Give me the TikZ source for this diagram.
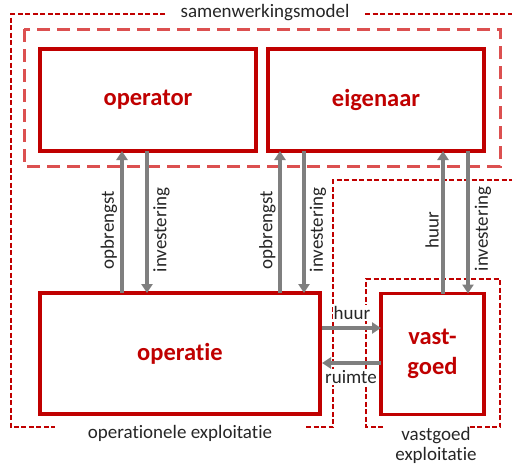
\documentclass[tikz,border=0pt]{standalone}
\usepackage{fontspec}
\setmainfont{Carlito}[Ligatures={NoCommon}]
\usetikzlibrary{arrows.meta}
\definecolor{boxred}{HTML}{C00000}
\definecolor{lightred}{RGB}{220,80,80}
\definecolor{arrgray}{HTML}{7F7F7F}
\tikzset{
  mainbox/.style={draw=boxred, line width=3.5pt, fill=white, inner sep=0pt, outer sep=0pt,
    font=\fontsize{24.5}{30}\selectfont\bfseries, text=boxred, align=center},
  arr/.style={draw=arrgray, line width=3.5pt, -{Triangle[width=11pt,length=9pt]}},
  lbl/.style={font=\fontsize{19}{21}\selectfont, text=black!85, inner sep=1pt},
  vlbl/.style={lbl, rotate=90},
  thindash/.style={draw=boxred, line width=1.3pt, dash pattern=on 5pt off 2.5pt},
  thickdash/.style={draw=lightred, line width=3pt, dash pattern=on 13pt off 7pt},
}
\begin{document}
\begin{tikzpicture}[x=1pt,y=-1pt]
\useasboundingbox (0,0) rectangle (512,466);
% outer thin dashed region
\draw[thindash] (165,14) -- (11,14) -- (11,427) -- (55,427);
\draw[thindash] (365,14) -- (512,14);
\draw[thindash] (306,427) -- (333,427) -- (333,180) -- (512,180);
\node[lbl] (samen) at (265,13) {samenwerkingsmodel};
\node[lbl] (opexp) at (180,433) {operationele exploitatie};
% vastgoed exploitatie region
\draw[thindash] (383,427) -- (366,427) -- (366,279) -- (500,279) -- (500,427) -- (467,427);
\node[lbl, align=center] (vgexp) at (436,445) {vastgoed\\[-1pt]exploitatie};
% thick dashed box
\draw[thickdash] (24,29) rectangle (500,166);
% main boxes
\node[mainbox, minimum width=216, minimum height=102] (operator) at (148,100) {operator};
\node[mainbox, minimum width=216, minimum height=102] (eigenaar) at (376,100) {eigenaar};
\node[mainbox, minimum width=280, minimum height=121] (operatie) at (180,353.5) {operatie};
\node[mainbox, minimum width=103, minimum height=121] (vastgoed) at (432.5,354) {vast-\\goed};
% x positions of vertical arrows
\coordinate (xa) at (122,0);
\coordinate (xb) at (147,0);
\coordinate (xc) at (280,0);
\coordinate (xd) at (304,0);
\coordinate (xe) at (443,0);
\coordinate (xf) at (468,0);
\coordinate (yh) at (0,328);
\coordinate (yr) at (0,363);
% horizontal labels (white background covers dashes)
\node[lbl, fill=white] (lhuur) at (352,313) {huur};
\node[lbl, fill=white] (lruimte) at (351,377) {ruimte};
% vertical arrows
\draw[arr] (operatie.north -| xa) -- (operator.south -| xa);
\draw[arr] (operator.south -| xb) -- (operatie.north -| xb);
\draw[arr] (operatie.north -| xc) -- (eigenaar.south -| xc);
\draw[arr] (eigenaar.south -| xd) -- (operatie.north -| xd);
\draw[arr] (vastgoed.north -| xe) -- (eigenaar.south -| xe);
\draw[arr] (eigenaar.south -| xf) -- (vastgoed.north -| xf);
% horizontal arrows
\draw[arr] ([xshift=2pt]operatie.east |- yh) -- (vastgoed.west |- yh);
\draw[arr] (vastgoed.west |- yr) -- ([xshift=2pt]operatie.east |- yr);
% vertical labels
\node[vlbl] (l1) at (109,230) {opbrengst};
\node[vlbl] (l2) at (161.5,230) {investering};
\node[vlbl] (l3) at (267.5,230) {opbrengst};
\node[vlbl] (l4) at (318,230) {investering};
\node[vlbl] (l5) at (432,230) {huur};
\node[vlbl] (l6) at (483,229) {investering};
\end{tikzpicture}
\end{document}
